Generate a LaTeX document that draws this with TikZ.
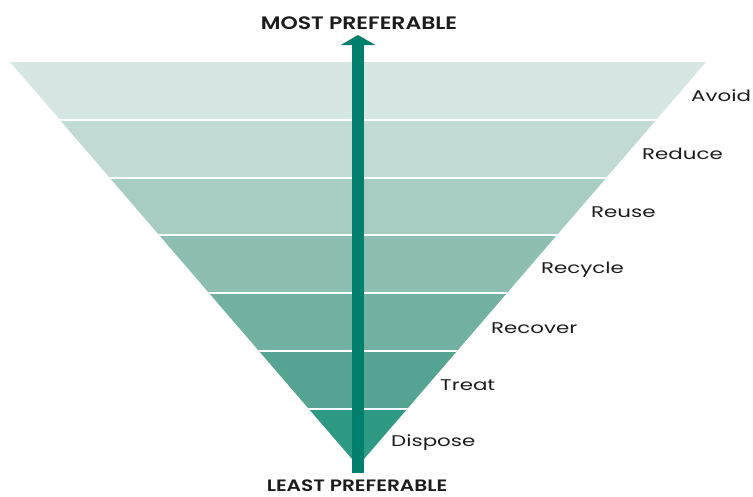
\documentclass[tikz,border=0pt]{standalone}
\usepackage{fontspec}
\setmainfont{Poppins}
\newfontfamily\tierfont[FakeStretch=1.38]{Poppins}
\newfontfamily\endfont[FakeStretch=1.22, BoldFont={Poppins SemiBold}]{Poppins}
\usetikzlibrary{arrows.meta}
\definecolor{bandA}{HTML}{D6E6E2}
\definecolor{bandB}{HTML}{C1DBD4}
\definecolor{bandC}{HTML}{A7CDC3}
\definecolor{bandD}{HTML}{8CBFB2}
\definecolor{bandE}{HTML}{72B1A2}
\definecolor{bandF}{HTML}{55A492}
\definecolor{bandG}{HTML}{2E9A84}
\definecolor{arrowteal}{HTML}{00806C}
\definecolor{labelgray}{HTML}{1C1C1C}

\begin{document}
\begin{tikzpicture}[x=1pt,y=-1pt,
    tierlabel/.style={anchor=west, inner sep=0pt, font=\tierfont\fontsize{15.5}{18}\selectfont, text=labelgray},
    endlabel/.style={inner sep=0pt, font=\endfont\fontsize{#1}{20}\selectfont\bfseries, text=labelgray}]
  \useasboundingbox (0,0) rectangle (753,496);
  % the inverted triangle, cut in seven bands
  \begin{scope}
    \clip (10,62) -- (706,62) -- (358,466) -- cycle;
    \foreach \i/\c in {0/bandA,1/bandB,2/bandC,3/bandD,4/bandE,5/bandF,6/bandG}
      \fill[\c] (0,62+57.8*\i) rectangle (753,62+57.8*\i+57.8);
    \foreach \i in {1,...,6}
      \draw[white, line width=2pt] (0,62+57.8*\i) -- (753,62+57.8*\i);
  \end{scope}
  \node[tierlabel] (avoid)   at (691,96)  {Avoid};
  \node[tierlabel] (reduce)  at (642,154) {Reduce};
  \node[tierlabel] (reuse)   at (591,212) {Reuse};
  \node[tierlabel] (recycle) at (541,270) {Recycle};
  \node[tierlabel] (recover) at (491,328) {Recover};
  \node[tierlabel] (treat)   at (440,385) {Treat};
  \node[tierlabel] (dispose) at (391,443) {Dispose};
  \node[endlabel=18] (most)  at (359,23)  {MOST PREFERABLE};
  \node[endlabel=16.5] (least) at (357,486) {LEAST PREFERABLE};
  \coordinate (AB) at (358,473);
  \coordinate (AT) at (358,35);
  \draw[arrowteal, line width=12pt, -{Triangle[width=34pt,length=10pt]}] (AB) -- (AT);
\end{tikzpicture}
\end{document}
